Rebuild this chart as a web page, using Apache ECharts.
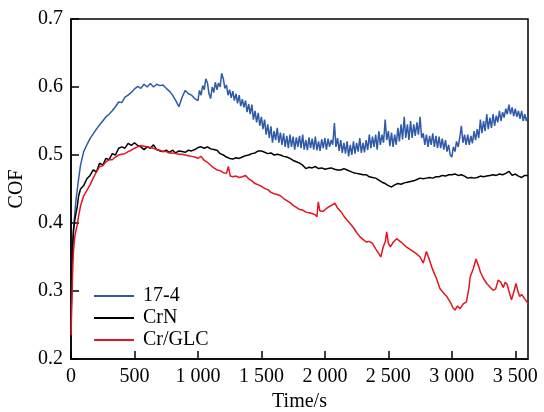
<!DOCTYPE html>
<html>
<head>
<meta charset="utf-8">
<script src="https://cdn.jsdelivr.net/npm/echarts@6/dist/echarts.min.js"></script>
<style>html,body{margin:0;padding:0;background:#fff}#c{width:544px;height:412px}</style>
</head>
<body>
<div id="c"></div>
<script>
// Tick labels / axis ranges
const xTicks = [0, 500, 1000, 1500, 2000, 2500, 3000, 3500];
const yTicks = [0.2, 0.3, 0.4, 0.5, 0.6, 0.7];
const seriesNames = ['17-4', 'CrN', 'Cr/GLC'];

// [time (s), COF]
const s174 = [[0,0.25],[5,0.30],[10,0.34],[15,0.37],[20,0.39],[30,0.415],[40,0.435],[50,0.45],[60,0.465],[75,0.485],
[100,0.505],[125,0.515],[150,0.524],[175,0.531],[200,0.538],[225,0.544],[250,0.550],[275,0.556],[300,0.560],[325,0.565],
[350,0.571],[375,0.578],[400,0.577],[425,0.585],[450,0.588],[475,0.592],[500,0.597],[525,0.601],[550,0.598],[575,0.604],
[600,0.600],[625,0.605],[650,0.600],[675,0.604],[700,0.602],[725,0.603],[750,0.598],[775,0.594],[800,0.588],[825,0.580],
[850,0.571],[875,0.585],[900,0.595],[925,0.590],[950,0.588],[975,0.583],
[1000,0.580],[1012,0.595],[1025,0.588],[1037,0.602],[1050,0.596],[1062,0.612],[1075,0.606],[1087,0.590],[1100,0.583],[1112,0.600],
[1125,0.592],[1137,0.607],[1150,0.596],[1162,0.606],[1175,0.600],[1187,0.620],[1200,0.612],[1212,0.598],[1225,0.603],[1237,0.588],
[1250,0.596],[1262,0.584],[1275,0.594],[1287,0.580],[1300,0.590],[1312,0.576],[1325,0.588],[1337,0.572],[1350,0.582],[1362,0.570],
[1375,0.580],[1387,0.563],[1400,0.575],[1412,0.560],[1425,0.574],[1437,0.552],[1450,0.565],[1462,0.548],[1475,0.562],[1487,0.543],
[1500,0.556],[1512,0.538],[1525,0.552],[1537,0.530],[1550,0.545],[1562,0.525],[1575,0.542],[1587,0.518],[1600,0.535],[1612,0.522],
[1625,0.540],[1637,0.518],[1650,0.533],[1662,0.515],[1675,0.532],[1687,0.512],[1700,0.528],[1712,0.510],[1725,0.530],[1737,0.512],
[1750,0.527],[1762,0.508],[1775,0.526],[1787,0.512],[1800,0.528],[1812,0.510],[1825,0.530],[1837,0.508],[1850,0.522],[1862,0.507],
[1875,0.526],[1887,0.510],[1900,0.524],[1912,0.508],[1925,0.527],[1937,0.507],[1950,0.520],[1962,0.506],[1975,0.523],[1987,0.510],
[2000,0.525],[2012,0.508],[2025,0.524],[2037,0.512],[2050,0.522],[2062,0.515],[2075,0.547],[2087,0.512],[2100,0.525],[2112,0.506],
[2125,0.522],[2137,0.503],[2150,0.518],[2162,0.502],[2175,0.520],[2187,0.498],[2200,0.515],[2212,0.500],[2225,0.520],[2237,0.502],
[2250,0.518],[2262,0.505],[2275,0.525],[2287,0.503],[2300,0.518],[2312,0.504],[2325,0.522],[2337,0.507],[2350,0.530],[2362,0.510],
[2375,0.527],[2387,0.512],[2400,0.530],[2412,0.508],[2425,0.535],[2437,0.515],[2450,0.530],[2462,0.518],[2475,0.552],[2487,0.522],
[2500,0.535],[2512,0.513],[2525,0.533],[2537,0.512],[2550,0.530],[2562,0.515],[2575,0.540],[2587,0.520],[2600,0.545],[2612,0.523],
[2625,0.556],[2637,0.525],[2650,0.545],[2662,0.522],[2675,0.550],[2687,0.525],[2700,0.545],[2712,0.528],[2725,0.548],[2737,0.530],
[2750,0.556],[2762,0.525],[2775,0.532],[2787,0.515],[2800,0.530],[2812,0.512],[2825,0.528],[2837,0.515],[2850,0.532],[2862,0.512],
[2875,0.528],[2887,0.510],[2900,0.527],[2912,0.510],[2925,0.524],[2937,0.508],[2950,0.522],[2962,0.505],[2975,0.515],[2987,0.500],
[3000,0.497],[3012,0.512],[3025,0.505],[3037,0.520],[3050,0.512],[3062,0.525],[3075,0.543],[3087,0.518],[3100,0.530],[3112,0.515],
[3125,0.530],[3137,0.515],[3150,0.528],[3162,0.517],[3175,0.535],[3187,0.522],[3200,0.538],[3212,0.525],[3225,0.552],[3237,0.532],
[3250,0.550],[3262,0.535],[3275,0.560],[3287,0.538],[3300,0.555],[3312,0.540],[3325,0.560],[3337,0.543],[3350,0.558],[3362,0.548],
[3375,0.565],[3387,0.550],[3400,0.563],[3412,0.555],[3425,0.568],[3437,0.560],[3450,0.574],[3462,0.560],[3475,0.570],[3487,0.557],
[3500,0.568],[3512,0.556],[3525,0.565],[3537,0.553],[3550,0.565],[3562,0.550],[3575,0.560],[3587,0.550],[3600,0.558]];

const sCrN = [[0,0.25],[5,0.31],[10,0.35],[15,0.375],[20,0.39],[30,0.405],[40,0.415],[50,0.425],[60,0.44],[75,0.45],
[100,0.455],[125,0.465],[150,0.470],[175,0.478],[200,0.475],[225,0.488],[250,0.485],[275,0.495],[300,0.493],[325,0.502],
[350,0.500],[375,0.510],[400,0.512],[425,0.510],[450,0.517],[475,0.514],[500,0.518],[525,0.514],[550,0.512],[575,0.508],
[600,0.512],[625,0.510],[650,0.515],[675,0.508],[700,0.506],[725,0.505],[750,0.507],[775,0.504],[800,0.507],[825,0.503],
[850,0.506],[875,0.505],[900,0.504],[925,0.507],[950,0.506],[975,0.508],[1000,0.511],[1025,0.512],[1050,0.510],[1075,0.512],
[1100,0.509],[1125,0.508],[1150,0.507],[1175,0.502],[1200,0.500],[1225,0.497],[1250,0.495],[1275,0.494],[1300,0.496],[1325,0.495],
[1350,0.497],[1375,0.499],[1400,0.500],[1425,0.502],[1450,0.503],[1475,0.506],[1500,0.506],[1525,0.504],[1550,0.502],[1575,0.503],
[1600,0.500],[1625,0.501],[1650,0.500],[1675,0.498],[1700,0.497],[1725,0.495],[1750,0.492],[1775,0.490],[1800,0.488],[1825,0.485],
[1850,0.480],[1875,0.482],[1900,0.481],[1925,0.483],[1950,0.480],[1975,0.481],[2000,0.479],[2025,0.480],[2050,0.481],[2075,0.479],
[2100,0.478],[2125,0.478],[2150,0.480],[2175,0.478],[2200,0.476],[2225,0.474],[2250,0.473],[2275,0.472],[2300,0.471],[2325,0.471],
[2350,0.468],[2375,0.467],[2400,0.466],[2425,0.463],[2450,0.460],[2475,0.458],[2500,0.455],[2525,0.453],[2550,0.456],[2575,0.458],
[2600,0.457],[2625,0.459],[2650,0.460],[2675,0.461],[2700,0.462],[2725,0.464],[2750,0.466],[2775,0.465],[2800,0.466],[2825,0.467],
[2850,0.466],[2875,0.468],[2900,0.468],[2925,0.470],[2950,0.469],[2975,0.471],[3000,0.471],[3025,0.472],[3050,0.470],[3075,0.471],
[3100,0.469],[3125,0.466],[3150,0.467],[3175,0.466],[3200,0.467],[3225,0.469],[3250,0.468],[3275,0.469],[3300,0.470],[3325,0.471],
[3350,0.470],[3375,0.472],[3400,0.471],[3425,0.473],[3450,0.476],[3475,0.470],[3500,0.472],[3525,0.469],[3550,0.467],[3575,0.470],[3600,0.470]];

const sCrGLC = [[0,0.235],[5,0.27],[10,0.31],[15,0.34],[20,0.36],[30,0.38],[40,0.39],[50,0.398],[60,0.41],[75,0.425],
[100,0.44],[125,0.448],[150,0.456],[175,0.466],[200,0.475],[225,0.483],[250,0.484],[275,0.490],[300,0.493],[325,0.493],
[350,0.497],[375,0.500],[400,0.501],[425,0.502],[450,0.505],[475,0.507],[500,0.510],[525,0.512],[550,0.514],[575,0.513],
[600,0.512],[625,0.511],[650,0.510],[675,0.508],[700,0.507],[725,0.505],[750,0.505],[775,0.503],[800,0.503],[825,0.502],
[850,0.501],[875,0.501],[900,0.500],[925,0.499],[950,0.498],[975,0.497],[1000,0.495],[1025,0.498],[1050,0.492],[1075,0.489],
[1100,0.485],[1125,0.481],[1150,0.478],[1175,0.477],[1200,0.474],[1225,0.473],[1240,0.483],[1255,0.469],[1275,0.468],[1300,0.469],
[1325,0.467],[1350,0.468],[1375,0.470],[1400,0.465],[1425,0.462],[1450,0.458],[1475,0.456],[1500,0.454],[1525,0.451],[1550,0.449],
[1575,0.445],[1600,0.443],[1625,0.442],[1650,0.440],[1675,0.436],[1700,0.433],[1725,0.430],[1750,0.426],[1775,0.423],[1800,0.420],
[1825,0.419],[1850,0.416],[1875,0.415],[1900,0.414],[1925,0.412],[1937,0.409],[1948,0.431],[1960,0.418],[1985,0.417],[2010,0.421],
[2035,0.424],[2060,0.427],[2080,0.429],[2100,0.422],[2125,0.417],[2150,0.410],[2175,0.404],[2200,0.399],[2225,0.393],[2250,0.386],
[2275,0.380],[2300,0.376],[2325,0.372],[2350,0.373],[2375,0.370],[2400,0.362],[2425,0.355],[2440,0.350],[2460,0.365],[2475,0.372],
[2487,0.387],[2500,0.370],[2515,0.365],[2540,0.372],[2565,0.377],[2600,0.372],[2640,0.365],[2680,0.360],[2720,0.355],[2750,0.350],
[2775,0.341],[2800,0.358],[2825,0.345],[2850,0.331],[2880,0.318],[2905,0.304],[2930,0.298],[2960,0.292],[2990,0.283],[3010,0.275],
[3025,0.272],[3045,0.278],[3065,0.274],[3090,0.281],[3115,0.284],[3135,0.305],[3145,0.321],[3170,0.333],[3190,0.347],[3210,0.337],
[3225,0.328],[3250,0.318],[3275,0.311],[3300,0.306],[3325,0.301],[3345,0.303],[3365,0.316],[3385,0.313],[3405,0.305],[3420,0.313],
[3435,0.310],[3450,0.300],[3470,0.287],[3490,0.300],[3505,0.311],[3520,0.300],[3535,0.292],[3550,0.295],[3565,0.293],[3580,0.287],[3600,0.282]];

const colors = ['#2f5aa8', '#000000', '#e3151f'];
const FONT = 'Liberation Serif';

const chart = echarts.init(document.getElementById('c'), null, {renderer: 'canvas'});
function fmtX(v) {
  if (xTicks.indexOf(v) < 0) return '';
  return v >= 1000 ? Math.floor(v / 1000) + ' ' + String(v % 1000).padStart(3, '0') : String(v);
}
chart.setOption({
  animation: false,
  backgroundColor: '#fff',
  grid: {left: 71, right: 16, top: 19, bottom: 53, show: true, borderColor: '#000', borderWidth: 1.5, containLabel: false, outerBoundsMode: 'none'},
  legend: {
    orient: 'vertical', left: 89, top: 281, itemWidth: 40, itemHeight: 2, itemGap: 2, icon: 'rect',
    textStyle: {fontFamily: FONT, fontSize: 20, color: '#000', padding: [0, 0, 0, 4]},
    data: seriesNames
  },
  xAxis: {
    type: 'value', min: 0, max: 3600, interval: 500,
    name: 'Time/s', nameLocation: 'middle', nameGap: 30,
    nameTextStyle: {fontFamily: FONT, fontSize: 20, color: '#000'},
    axisLine: {lineStyle: {color: '#000', width: 1.5}},
    axisTick: {inside: true, length: 8, lineStyle: {color: '#000', width: 1.5}},
    axisLabel: {fontFamily: FONT, fontSize: 20, color: '#000', margin: 8, formatter: fmtX, showMaxLabel: false},
    splitLine: {show: false}
  },
  yAxis: {
    type: 'value', min: 0.2, max: 0.7, interval: 0.1,
    name: 'COF', nameLocation: 'middle', nameGap: 42,
    nameTextStyle: {fontFamily: FONT, fontSize: 20, color: '#000'},
    axisLine: {lineStyle: {color: '#000', width: 1.5}},
    axisTick: {inside: true, length: 8, lineStyle: {color: '#000', width: 1.5}},
    axisLabel: {fontFamily: FONT, fontSize: 20, color: '#000', margin: 8, formatter: v => v.toFixed(1)},
    splitLine: {show: false}
  },
  series: [
    {name: seriesNames[0], type: 'line', data: s174, symbol: 'none', lineStyle: {color: colors[0], width: 1.5}, itemStyle: {color: colors[0]}},
    {name: seriesNames[1], type: 'line', data: sCrN, symbol: 'none', lineStyle: {color: colors[1], width: 1.5}, itemStyle: {color: colors[1]}},
    {name: seriesNames[2], type: 'line', data: sCrGLC, symbol: 'none', lineStyle: {color: colors[2], width: 1.5}, itemStyle: {color: colors[2]}}
  ]
});
</script>
</body>
</html>
